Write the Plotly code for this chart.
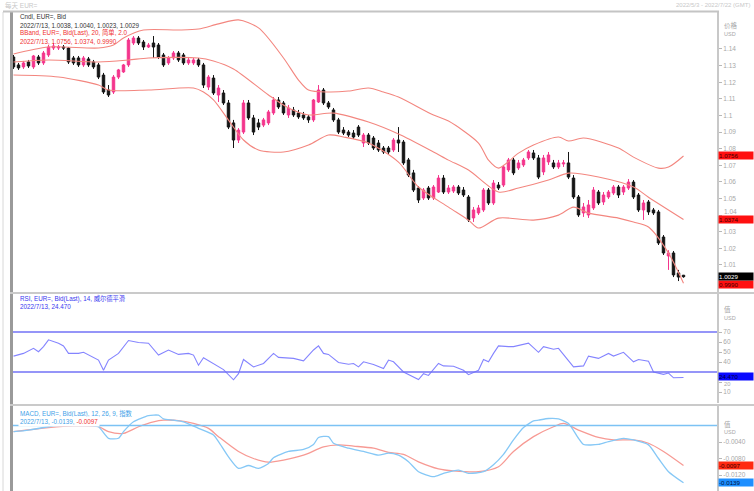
import plotly.graph_objects as go

W, H = 754, 491
def px(x): return x / W
def py(y): return 1 - y / H

# ---------------- DATA ----------------
opens = [1.1352,1.1304,1.1292,1.1322,1.1292,1.1352,1.1316,1.1364,1.1406,1.1406,
         1.1412,1.1406,1.1346,1.1346,1.1304,1.1340,1.1322,1.1304,1.1243,1.1153,
         1.1141,1.1231,1.1262,1.1304,1.1436,1.1466,1.1442,1.1412,1.1436,1.1424,
         1.1364,1.1316,1.1346,1.1376,1.1364,1.1316,1.1316,1.1334,1.1304,1.1171,
         1.1225,1.1123,1.1135,1.1075,1.0955,1.0852,1.0900,1.1075,1.0985,1.0955,
         1.0942,1.0955,1.1015,1.1093,1.1075,1.1003,1.1033,1.1015,1.1003,1.0991,
         1.0973,1.1081,1.1153,1.1075,1.1033,1.0973,1.0912,1.0900,1.0894,1.0930,
         1.0834,1.0882,1.0864,1.0834,1.0804,1.0804,1.0792,1.0852,1.0840,1.0732,
         1.0654,1.0563,1.0503,1.0563,1.0503,1.0539,1.0623,1.0539,1.0545,1.0569,
         1.0551,1.0509,1.0383,1.0413,1.0431,1.0551,1.0473,1.0581,1.0581,1.0672,
         1.0732,1.0684,1.0702,1.0744,1.0774,1.0744,1.0660,1.0720,1.0714,1.0690,
         1.0708,1.0714,1.0623,1.0509,1.0413,1.0401,1.0443,1.0539,1.0479,1.0509,
         1.0533,1.0569,1.0539,1.0563,1.0599,1.0521,1.0431,1.0479,1.0431,1.0419,
         1.0268,1.0154,1.0172,1.0052,1.0038]
highs = [1.1364,1.1316,1.1328,1.1334,1.1364,1.1364,1.1388,1.1424,1.1436,1.1424,
         1.1424,1.1412,1.1358,1.1358,1.1358,1.1352,1.1334,1.1316,1.1256,1.1183,
         1.1243,1.1280,1.1310,1.1466,1.1478,1.1478,1.1454,1.1436,1.1478,1.1436,
         1.1376,1.1358,1.1388,1.1388,1.1376,1.1352,1.1346,1.1346,1.1316,1.1243,
         1.1243,1.1183,1.1153,1.1093,1.0973,1.0924,1.1093,1.1093,1.1003,1.0979,
         1.0985,1.1033,1.1111,1.1111,1.1087,1.1063,1.1051,1.1033,1.1021,1.1003,
         1.1099,1.1183,1.1165,1.1087,1.1045,1.0985,1.0930,1.0912,1.0912,1.0942,
         1.0894,1.0894,1.0876,1.0852,1.0816,1.0816,1.0864,1.0930,1.0852,1.0744,
         1.0672,1.0575,1.0563,1.0575,1.0581,1.0641,1.0641,1.0581,1.0581,1.0581,
         1.0569,1.0521,1.0449,1.0461,1.0563,1.0563,1.0611,1.0599,1.0702,1.0744,
         1.0744,1.0732,1.0744,1.0792,1.0792,1.0762,1.0762,1.0780,1.0732,1.0732,
         1.0732,1.0780,1.0641,1.0521,1.0473,1.0491,1.0569,1.0551,1.0539,1.0551,
         1.0581,1.0581,1.0581,1.0617,1.0611,1.0533,1.0491,1.0491,1.0443,1.0431,
         1.0280,1.0189,1.0184,1.0070,1.0040]
lows = [1.1280,1.1274,1.1280,1.1286,1.1280,1.1304,1.1304,1.1352,1.1394,1.1394,
        1.1394,1.1310,1.1304,1.1292,1.1292,1.1292,1.1280,1.1219,1.1129,1.1111,
        1.1129,1.1219,1.1256,1.1292,1.1424,1.1424,1.1394,1.1406,1.1346,1.1340,
        1.1292,1.1304,1.1334,1.1322,1.1304,1.1304,1.1304,1.1292,1.1165,1.1153,
        1.1123,1.1081,1.1063,1.0918,1.0804,1.0834,1.0888,1.0973,1.0882,1.0912,
        1.0930,1.0942,1.1003,1.1039,1.1003,1.0985,1.0991,1.0979,1.0973,1.0955,
        1.0961,1.1075,1.1063,1.1039,1.0961,1.0888,1.0882,1.0870,1.0858,1.0870,
        1.0810,1.0822,1.0792,1.0780,1.0768,1.0768,1.0780,1.0780,1.0702,1.0629,
        1.0539,1.0473,1.0491,1.0491,1.0491,1.0533,1.0527,1.0527,1.0533,1.0521,
        1.0509,1.0359,1.0359,1.0401,1.0419,1.0461,1.0461,1.0551,1.0569,1.0660,
        1.0641,1.0672,1.0690,1.0732,1.0732,1.0617,1.0641,1.0702,1.0678,1.0678,
        1.0690,1.0617,1.0497,1.0389,1.0389,1.0383,1.0431,1.0461,1.0461,1.0497,
        1.0521,1.0503,1.0521,1.0551,1.0497,1.0419,1.0371,1.0401,1.0401,1.0220,
        1.0160,1.0070,1.0027,1.0003,1.0023]
closes = [1.1292,1.1286,1.1316,1.1298,1.1358,1.1316,1.1376,1.1412,1.1418,1.1412,
          1.1406,1.1322,1.1316,1.1304,1.1346,1.1304,1.1292,1.1231,1.1141,1.1123,
          1.1231,1.1274,1.1304,1.1454,1.1466,1.1436,1.1412,1.1424,1.1412,1.1352,
          1.1304,1.1346,1.1376,1.1334,1.1316,1.1334,1.1334,1.1304,1.1183,1.1231,
          1.1135,1.1165,1.1075,1.0930,1.0852,1.0912,1.1075,1.0985,1.0900,1.0930,
          1.0973,1.1021,1.1093,1.1051,1.1015,1.1045,1.1003,1.0991,1.0985,1.0973,
          1.1093,1.1153,1.1075,1.1051,1.0973,1.0900,1.0894,1.0882,1.0870,1.0882,
          1.0882,1.0834,1.0804,1.0792,1.0780,1.0780,1.0852,1.0834,1.0714,1.0641,
          1.0551,1.0491,1.0551,1.0503,1.0569,1.0623,1.0539,1.0563,1.0569,1.0533,
          1.0521,1.0371,1.0431,1.0443,1.0551,1.0473,1.0593,1.0563,1.0690,1.0732,
          1.0654,1.0714,1.0732,1.0780,1.0744,1.0629,1.0744,1.0762,1.0690,1.0714,
          1.0714,1.0629,1.0509,1.0401,1.0449,1.0461,1.0551,1.0473,1.0521,1.0539,
          1.0569,1.0521,1.0569,1.0599,1.0509,1.0431,1.0473,1.0419,1.0413,1.0232,
          1.0172,1.0172,1.0040,1.0027,1.0029]
candle_idx = list(range(len(closes)))

bb_up_idx = [0,7,17,20,22,26,33,37,41,45,49,54,57,59,63,67,71,74,77,84,87,93,95,97,101,104,109,111,114,121,124,129,131,134]
bb_up = [1.1370,1.1412,1.1406,1.1424,1.1466,1.1514,1.1514,1.1520,1.1551,1.1575,1.1527,1.1346,1.1213,1.1153,1.1141,1.1147,1.1165,1.1141,1.1111,1.1002,1.0966,1.0834,1.0731,1.0683,1.0773,1.0822,1.0870,1.0846,1.0864,1.0804,1.0749,1.0683,1.0689,1.0756]
bb_mid_idx = [0,7,17,23,27,37,40,44,51,55,59,64,71,77,84,87,91,97,101,107,111,117,124,127,134]
bb_mid = [1.1322,1.1334,1.1322,1.1334,1.1346,1.1346,1.1328,1.1280,1.1123,1.1045,1.1003,1.1014,1.0960,1.0888,1.0780,1.0731,1.0671,1.0539,1.0563,1.0611,1.0653,1.0629,1.0569,1.0508,1.0374]
bb_lo_idx = [0,9,17,19,27,36,38,40,43,46,49,54,59,63,66,71,77,81,87,91,93,97,104,109,112,115,121,124,127,131,134]
bb_lo = [1.1243,1.1231,1.1183,1.1153,1.1153,1.1165,1.1141,1.1093,1.0972,1.0852,1.0792,1.0780,1.0822,1.0882,1.0870,1.0834,1.0719,1.0569,1.0448,1.0370,1.0322,1.0382,1.0370,1.0400,1.0448,1.0412,1.0382,1.0358,1.0328,1.0171,0.9990]

rsi_idx = [0,2,4,5,6,7,9,10,11,13,14,15,17,18,19,21,23,25,27,29,31,33,35,36,37,38,41,42,44,45,46,48,50,52,53,56,58,60,61,62,63,65,67,68,69,70,72,74,75,76,78,81,82,83,85,86,88,90,91,93,94,95,96,97,99,100,103,105,106,108,109,112,114,115,117,119,120,122,124,125,127,128,130,131,132,134]
rsi = [45.9,48.6,53.7,50.3,55.4,62.2,58.8,56.1,48.6,48.6,49.7,46.9,41.9,31.7,41.9,48.6,61.5,59.5,58.8,46.9,52.0,47.6,48.6,46.9,36.8,44.2,35.1,32.4,22.2,28.3,42.5,35.1,38.5,48.6,44.6,43.6,41.2,52.0,56.1,48.6,47.6,39.5,37.8,38.5,35.1,40.2,37.5,33.4,41.9,40.2,30.0,22.5,28.3,26.6,38.5,36.1,35.8,31.7,27.3,31.7,42.5,40.2,48.6,56.1,55.4,55.4,58.8,49.7,55.4,52.7,53.7,35.1,36.1,45.9,43.6,48.6,45.9,49.7,40.2,42.5,40.8,30.0,27.6,29.0,24.2,24.47]

macd_idx = [0,3,7,10,15,17,19,21,22,24,27,29,30,32,34,37,40,41,43,45,47,49,51,52,55,58,60,61,63,64,67,70,73,75,77,79,81,84,86,89,91,94,96,98,100,102,104,105,107,109,111,113,114,117,119,122,124,127,129,131,134]
macd = [-0.0015,-0.0011,-0.0003,0.0004,0.0001,-0.0003,-0.0031,-0.0031,-0.0015,0.0009,0.0024,0.0025,0.0016,0.0013,0.0009,-0.0007,-0.0023,-0.0039,-0.0076,-0.0104,-0.0097,-0.0104,-0.0092,-0.0078,-0.0063,-0.0058,-0.0046,-0.0029,-0.0027,-0.0043,-0.0055,-0.0063,-0.0072,-0.0067,-0.0072,-0.0088,-0.0112,-0.0124,-0.0116,-0.0108,-0.0116,-0.0112,-0.0095,-0.0070,-0.0035,-0.0005,0.0011,0.0013,0.0017,0.0016,0.0005,-0.0031,-0.0046,-0.0046,-0.0039,-0.0031,-0.0035,-0.0047,-0.0080,-0.0112,-0.0139]
sig_idx = [0,7,12,17,19,22,25,28,30,33,36,39,41,45,48,51,54,58,62,65,68,72,75,78,81,85,88,93,97,100,104,108,110,113,117,120,124,127,130,134]
sig = [-0.0015,-0.0005,-0.0001,-0.0003,-0.0015,-0.0019,-0.0003,0.0009,0.0013,0.0012,0.0005,-0.0007,-0.0027,-0.0063,-0.0080,-0.0089,-0.0084,-0.0072,-0.0052,-0.0047,-0.0050,-0.0055,-0.0065,-0.0070,-0.0088,-0.0105,-0.0110,-0.0112,-0.0100,-0.0063,-0.0027,-0.0003,0.0005,-0.0011,-0.0029,-0.0035,-0.0035,-0.0043,-0.0063,-0.0097]

price_ticks = [1.14,1.13,1.12,1.11,1.10,1.09,1.08,1.07,1.06,1.05,1.04,1.03,1.02,1.01]
price_ticktext = ["1.14","1.13","1.12","1.11","1.1","1.09","1.08","1.07","1.06","1.05","","1.03","1.02","1.01"]
rsi_ticks = [70,60,50,40,20,10]
rsi_ticktext = ["70","60","50","40","","10"]
macd_ticks = [-0.004,-0.008,-0.012]
macd_ticktext = ["-0.0040","-0.0080","-0.0120"]

# ---------------- STYLE ----------------
UP = "#f4358c"
DN = "#151515"
BB = "#f3867f"
RSI_C = "#8484ff"
MACD_C = "#86c8f6"
SIG_C = "#f79a94"
FONT = "Liberation Sans, Noto Sans CJK SC, sans-serif"
GREY = "#a8a8a8"

fig = go.Figure()
fig.add_trace(go.Candlestick(
    x=candle_idx, open=opens, high=highs, low=lows, close=closes,
    increasing=dict(line=dict(color=UP, width=1), fillcolor=UP),
    decreasing=dict(line=dict(color=DN, width=1), fillcolor=DN),
    whiskerwidth=0, xaxis="x", yaxis="y", showlegend=False, hoverinfo="skip"))
for xi, yv in [(bb_up_idx, bb_up), (bb_mid_idx, bb_mid), (bb_lo_idx, bb_lo)]:
    fig.add_trace(go.Scatter(x=xi, y=yv, mode="lines", xaxis="x", yaxis="y",
                             line=dict(color=BB, width=1.1, shape="spline", smoothing=0.8),
                             showlegend=False, hoverinfo="skip"))
fig.add_trace(go.Scatter(x=rsi_idx, y=rsi, mode="lines", xaxis="x2", yaxis="y2",
                         line=dict(color=RSI_C, width=1.1), showlegend=False, hoverinfo="skip"))
fig.add_trace(go.Scatter(x=sig_idx, y=sig, mode="lines", xaxis="x3", yaxis="y3",
                         line=dict(color=SIG_C, width=1.3, shape="spline", smoothing=0.8),
                         showlegend=False, hoverinfo="skip"))
fig.add_trace(go.Scatter(x=macd_idx, y=macd, mode="lines", xaxis="x3", yaxis="y3",
                         line=dict(color=MACD_C, width=1.3, shape="spline", smoothing=0.6),
                         showlegend=False, hoverinfo="skip"))

xr = [-0.3, 140.7]
xdom = [px(12), px(717)]
axis_common = dict(side="right", showgrid=False, zeroline=False, showline=True,
                   linecolor="#c8c8c8", linewidth=2, ticks="outside", ticklen=3,
                   tickcolor="#b8b8b8", tickfont=dict(family=FONT, size=6.5, color=GREY))
fig.update_layout(
    width=W, height=H, margin=dict(l=0, r=0, t=0, b=0),
    paper_bgcolor="white", plot_bgcolor="white", showlegend=False,
    xaxis=dict(domain=xdom, range=xr, visible=False, rangeslider=dict(visible=False), anchor="y"),
    xaxis2=dict(domain=xdom, range=xr, visible=False, anchor="y2", matches="x"),
    xaxis3=dict(domain=xdom, range=xr, visible=False, anchor="y3", matches="x"),
    yaxis=dict(domain=[py(292), py(12)], range=[0.99371, 1.16227], anchor="x",
               tickvals=price_ticks, ticktext=price_ticktext, **axis_common),
    yaxis2=dict(domain=[py(403), py(294)], range=[-1, 108], anchor="x2",
                tickvals=rsi_ticks, ticktext=rsi_ticktext, **axis_common),
    yaxis3=dict(domain=[0, py(406)], range=[-0.01588, 0.00473], anchor="x3",
                tickvals=macd_ticks, ticktext=macd_ticktext, **axis_common),
)

shapes = []
shapes.append(dict(type="line", xref="paper", yref="paper", x0=px(3), x1=px(3), y0=py(12), y1=0,
                   line=dict(color="#d8d8d8", width=1)))
shapes.append(dict(type="rect", xref="paper", yref="paper", x0=px(10), x1=px(13), y0=0, y1=py(12),
                   fillcolor="#9a9a9a", line=dict(width=0)))
shapes.append(dict(type="line", xref="paper", yref="paper", x0=px(3), x1=px(719), y0=py(11.5), y1=py(11.5),
                   line=dict(color="#c4c4c4", width=2)))
for yy in (293, 405):
    shapes.append(dict(type="line", xref="paper", yref="paper", x0=px(10), x1=1, y0=py(yy), y1=py(yy),
                       line=dict(color="#cacaca", width=2)))
for lv in (70, 30):
    shapes.append(dict(type="line", xref="paper", yref="y2", x0=px(13), x1=px(717), y0=lv, y1=lv,
                       line=dict(color="#7272f6", width=1.5)))
shapes.append(dict(type="line", xref="paper", yref="y3", x0=px(13), x1=px(717), y0=0, y1=0,
                   line=dict(color="#7cc2f4", width=1.3)))
fig.update_layout(shapes=shapes)

ann = []
def text(x, y, s, color, size=6.3, anchor="left"):
    ann.append(dict(xref="paper", yref="paper", x=px(x), y=py(y), text=s,
                    showarrow=False, xanchor=anchor, yanchor="middle",
                    font=dict(family=FONT, size=size, color=color)))

text(3, 5, "每天 EUR=", "#c8c8c8", 6.5)
text(752, 5, "2022/5/3 - 2022/7/22 (GMT)", "#c8c8c8", 6, "right")
text(18, 17, "Cndl, EUR=, Bid", "#333333")
text(18, 25, "2022/7/13, 1.0038, 1.0040, 1.0023, 1.0029", "#333333")
text(18, 33, "BBand, EUR=, Bid(Last), 20, 简单, 2.0", "#f03030")
text(18, 41, "2022/7/13, 1.0756, 1.0374, 0.9990", "#f03030")
text(18, 298, "RSI, EUR=, Bid(Last), 14, 威尔德平滑", "#3838f0")
text(18, 306, "2022/7/13, 24.470", "#3838f0")
ann.append(dict(xref="paper", yref="paper", x=px(18), y=py(413), text="MACD, EUR=, Bid(Last), 12, 26, 9, 指数",
                showarrow=False, xanchor="left", yanchor="middle", bgcolor="white",
                font=dict(family=FONT, size=6.3, color="#3f9fe8")))
ann.append(dict(xref="paper", yref="paper", x=px(18), y=py(421),
                text="2022/7/13, -0.0139, <span style='color:#f03030'>-0.0097</span>",
                showarrow=False, xanchor="left", yanchor="middle", bgcolor="white",
                font=dict(family=FONT, size=6.3, color="#3f9fe8")))
# axis headers
text(722, 25, "价格", GREY, 6.5)
text(722, 34, "USD", GREY, 5.5)
text(722, 309, "值", GREY, 6.5)
text(722, 318, "USD", GREY, 5.5)
text(722, 424, "值", GREY, 6.5)
text(722, 432, "USD", GREY, 5.5)
# tick labels partly covered by value tags, nudged clear of them
text(722, 211.5, "1.04", GREY, 6.5)
text(722, 384.3, "20", GREY, 5.8)

def tag(yref, val, s, bg, fg):
    ann.append(dict(xref="paper", yref=yref, x=px(718), y=val, text=s, showarrow=False,
                    xanchor="left", yanchor="middle", bgcolor=bg, width=34, height=7, align="left",
                    borderpad=0, font=dict(family=FONT, size=6.2, color=fg)))

tag("y", bb_up[-1], "1.0756", "#ff1010", "#400000")
tag("y", bb_mid[-1] - 0.0003, "1.0374", "#ff1010", "#400000")
tag("y", bb_lo[-1] - 0.0005, "0.9990", "#ff1010", "#400000")
tag("y", closes[-1] + 0.0003, "1.0029", "#000000", "#ffffff")
tag("y2", rsi[-1] + 1.0, "24.470", "#0a0aff", "#000040")
tag("y3", sig[-1], "-0.0097", "#ff2a10", "#400000")
tag("y3", macd[-1], "-0.0139", "#1e8fff", "#001040")
fig.update_layout(annotations=ann)

fig.write_html("out.html")
